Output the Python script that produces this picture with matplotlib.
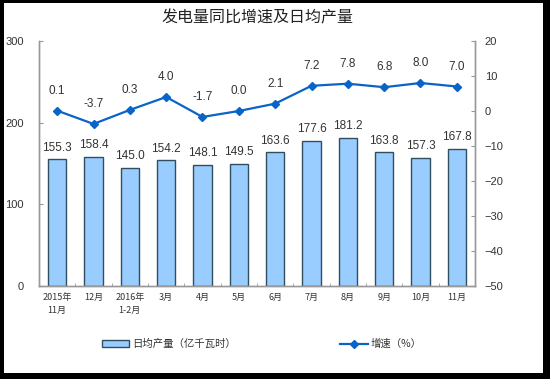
import matplotlib
matplotlib.use("Agg")
import matplotlib.pyplot as plt
import numpy as np
from matplotlib.patches import Rectangle
from matplotlib.lines import Line2D
from matplotlib.patches import Patch

# data
months = ["2015年\n11月", "12月", "2016年\n1-2月", "3月", "4月", "5月",
          "6月", "7月", "8月", "9月", "10月", "11月"]
daily_output = [155.3, 158.4, 145.0, 154.2, 148.1, 149.5,
                163.6, 177.6, 181.2, 163.8, 157.3, 167.8]
growth = [0.1, -3.7, 0.3, 4.0, -1.7, 0.0, 2.1, 7.2, 7.8, 6.8, 8.0, 7.0]

cjk = ["Noto Sans CJK SC", "DejaVu Sans"]
num_font = ["Liberation Sans", "DejaVu Sans"]
text_color = "#333333"
bar_color = "#99CCFF"
bar_edge = "#2F4F5F"
line_color = "#0A64C8"
spine_color = "#999999"

fig = plt.figure(figsize=(5.5, 3.79), dpi=100)
fig.patch.set_facecolor("black")
# white card inside the black frame
fig.add_artist(Rectangle((4 / 550, 6 / 379), 539 / 550, 370 / 379,
                         transform=fig.transFigure, facecolor="white",
                         edgecolor="none", zorder=0))

ax = fig.add_axes([39 / 550, 93 / 379, 436 / 550, 245 / 379])
ax.set_facecolor("none")
x = np.arange(len(months))

ax.bar(x, daily_output, width=0.5, color=bar_color, edgecolor=bar_edge,
       linewidth=1.0, zorder=2)
for xi, v in zip(x, daily_output):
    ax.annotate(f"{v:.1f}", (xi, v), xytext=(0, 4), textcoords="offset points",
                ha="center", va="bottom", fontsize=8.5, color=text_color,
                family=num_font)

ax.set_xlim(-0.5, len(months) - 0.5)
ax.set_ylim(0, 300)
ax.set_yticks([0, 100, 200, 300])
ax.set_xticks(x)
ax.set_xticklabels(months, fontsize=6.5, family=cjk, color=text_color,
                   linespacing=1.6)
ax.set_xticks(x[:-1] + 0.5, minor=True)
ax.tick_params(axis="x", which="major", length=0, pad=5)
ax.tick_params(axis="x", which="minor", length=2, direction="in",
               color=spine_color)
ax.tick_params(axis="y", direction="in", length=3, color=spine_color,
               labelsize=8, labelcolor=text_color, pad=11)
for lab in ax.get_yticklabels():
    lab.set_family(num_font)

ax2 = ax.twinx()
ax2.plot(x, growth, color=line_color, linewidth=1.6, marker="D",
         markersize=4, zorder=3)
for xi, v in zip(x, growth):
    ax2.annotate(f"{v:.1f}", (xi, v), xytext=(0, 10), textcoords="offset points",
                 ha="center", va="bottom", fontsize=8.5, color=text_color,
                 family=num_font)
ax2.set_ylim(-50, 20)
ax2.set_yticks(np.arange(-50, 21, 10))
ax2.tick_params(axis="y", direction="in", length=3, color=spine_color,
                labelsize=8, labelcolor=text_color, pad=7)
for lab in ax2.get_yticklabels():
    lab.set_family(num_font)

for a in (ax, ax2):
    a.spines["top"].set_visible(False)
    for s in ("left", "right", "bottom"):
        a.spines[s].set_color(spine_color)
        a.spines[s].set_linewidth(1.0)

fig.text(258 / 550, 1 - 18 / 379, "发电量同比增速及日均产量", ha="center",
         va="center", fontsize=11.5, family=cjk, color="#222222")

handles = [Patch(facecolor=bar_color, edgecolor=bar_edge, linewidth=1.0),
           Line2D([0], [0], color=line_color, linewidth=1.6, marker="D",
                  markersize=4)]
labels = ["日均产量（亿千瓦时）", "增速（%）"]
fig.legend(handles, labels, loc="center", bbox_to_anchor=(262 / 550, 1 - 344 / 379),
           ncol=2, frameon=False, columnspacing=10, handlelength=2.6,
           handleheight=0.7, handletextpad=0.3,
           prop={"family": cjk, "size": 7.5}, labelcolor=text_color)

fig.savefig("out.png", dpi=100, facecolor=fig.get_facecolor())
